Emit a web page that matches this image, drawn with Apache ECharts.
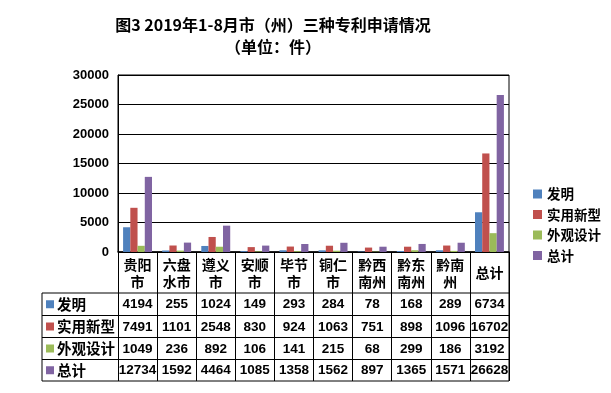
<!DOCTYPE html>
<html><head><meta charset="utf-8">
<script src="https://cdn.jsdelivr.net/npm/echarts@6/dist/echarts.min.js"></script>
<style>html,body{margin:0;padding:0;background:#fff}#c{width:611px;height:393px}</style>
</head><body><div id="c"></div>
<script>
var titleText = '图3 2019年1-8月市（州）三种专利申请情况\n（单位：件）';
var categories = ['贵阳市','六盘水市','遵义市','安顺市','毕节市','铜仁市','黔西南州','黔东南州','黔南州','总计'];
var seriesNames = ['发明','实用新型','外观设计','总计'];
var faming = [4194,255,1024,149,293,284,78,168,289,6734];
var shiyong = [7491,1101,2548,830,924,1063,751,898,1096,16702];
var waiguan = [1049,236,892,106,141,215,68,299,186,3192];
var zongji = [12734,1592,4464,1085,1358,1562,897,1365,1571,26628];
var yTicks = {min:0, max:30000, interval:5000};
var colors = ['#4F81BD','#C0504D','#9BBB59','#8064A2'];
var allData = [faming, shiyong, waiguan, zongji];

var CJK = '"Noto Sans CJK SC", sans-serif';
var NUM = '"Liberation Sans", Arial, sans-serif';
var W = 'bold';
var chart = echarts.init(document.getElementById('c'));
var GL = 118, GR = 509, GT = 75, GB = 252;
var option = {
  animation:false,
  color: colors,
  title:{text:titleText, left:268, top:9, textAlign:'center',
    textStyle:{fontFamily:CJK, fontSize:16, fontWeight:W, color:'#000', lineHeight:22}},
  legend:{orient:'vertical', left:528, top:182, itemWidth:9, itemHeight:9, itemGap:6.5,
    icon:'rect', data:seriesNames,
    textStyle:{fontFamily:CJK, fontSize:13.5, fontWeight:W, color:'#000', lineHeight:14}},
  grid:{left:GL, right:611-GR, top:GT, bottom:393-GB, show:true, borderColor:'#000', borderWidth:1},
  xAxis:{type:'category', data:categories,
    axisLine:{show:true, lineStyle:{color:'#000', width:1.5}},
    axisTick:{show:true, length:129, interval:0, lineStyle:{color:'#000'}},
    axisLabel:{interval:0, margin:21, verticalAlign:'middle', fontFamily:CJK, fontSize:14, fontWeight:W,
      color:'#000', lineHeight:17,
      formatter:function(v){return v.length>2 ? v.slice(0,2)+'\n'+v.slice(2) : v;}}},
  yAxis:{type:'value', min:yTicks.min, max:yTicks.max, interval:yTicks.interval,
    axisLine:{show:true, lineStyle:{color:'#000'}},
    axisTick:{show:false},
    splitLine:{lineStyle:{color:'#000', width:1}},
    axisLabel:{fontFamily:NUM, fontSize:13, fontWeight:'bold', color:'#000', margin:9,
      formatter:function(v){return String(v);}}},
  series: seriesNames.map(function(n,i){
    return {name:n, type:'bar', data:allData[i], barGap:'0%', barCategoryGap:'26%'};
  })
};
chart.setOption(option);

var rowLines = [293, 315.5, 337.5, 359.5, 381];
var g = [];
rowLines.forEach(function(y){
  g.push({type:'line', shape:{x1:42, y1:y, x2:GR, y2:y}, style:{stroke:'#000', lineWidth:1}});
});
g.push({type:'line', shape:{x1:42, y1:rowLines[0], x2:42, y2:rowLines[4]}, style:{stroke:'#000', lineWidth:1}});
g.push({type:'line', shape:{x1:GR, y1:GB, x2:GR, y2:rowLines[4]}, style:{stroke:'#000', lineWidth:1}});
for (var r=0;r<4;r++){
  var cy = (rowLines[r]+rowLines[r+1])/2;
  g.push({type:'rect', shape:{x:46, y:cy-4, width:8, height:8}, style:{fill:colors[r]}});
  g.push({type:'text', x:57, y:cy, style:{text:seriesNames[r], fontFamily:CJK, fontSize:14.5, fontWeight:W,
    fill:'#000', verticalAlign:'middle', align:'left'}});
  for (var c=0;c<categories.length;c++){
    var cx = chart.convertToPixel({xAxisIndex:0}, categories[c]);
    g.push({type:'text', x:cx, y:cy+0.5, style:{text:String(allData[r][c]), fontFamily:NUM, fontSize:13.5,
      fontWeight:'bold', fill:'#000', verticalAlign:'middle', align:'center'}});
  }
}
chart.setOption({graphic:g});
</script></body></html>
